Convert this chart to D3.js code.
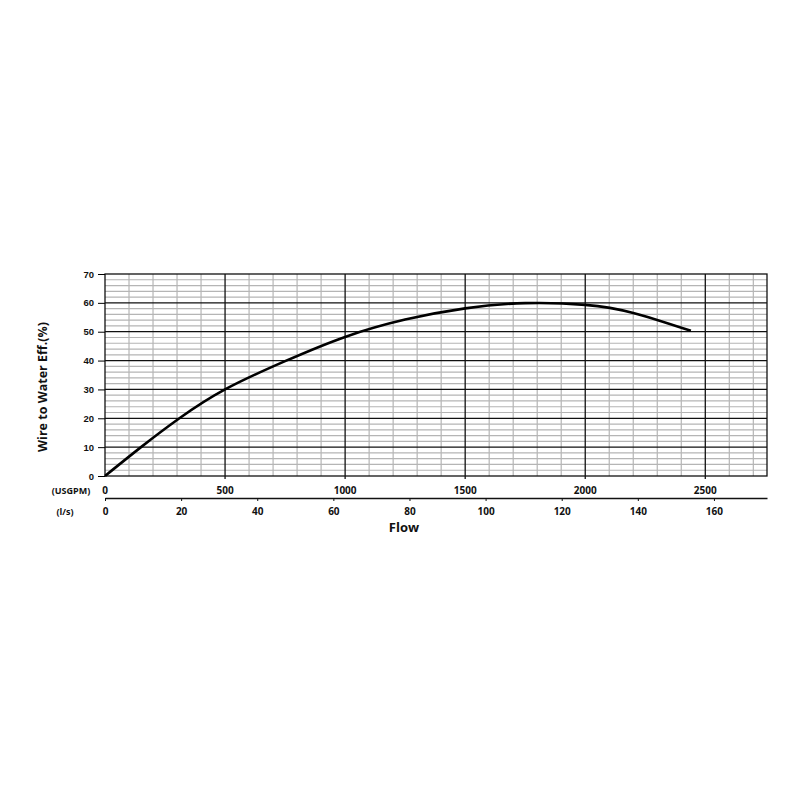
<!DOCTYPE html>
<html>
<head>
<meta charset="utf-8">
<script src="https://cdn.jsdelivr.net/npm/d3@7"></script>
<style>
  body { margin: 0; background: white; }
  text { font-family: "Open Sans", "DejaVu Sans", sans-serif; font-weight: bold; }
</style>
</head>
<body>
<div id="chart"></div>
<script>
// efficiency curve: flow in USGPM, efficiency in %
const flowGpm = [0, 150, 310, 500, 750, 1000, 1250, 1500, 1750, 2000, 2200, 2440];
const effPct  = [0, 10, 20, 30, 39.8, 48.2, 54.2, 58.1, 59.9, 59.3, 56.5, 50.3];

const yTicks = [0, 10, 20, 30, 40, 50, 60, 70];
const gpmTicks = [0, 500, 1000, 1500, 2000, 2500];
const lpsTicks = [0, 20, 40, 60, 80, 100, 120, 140, 160];

const GPM_PER_LPS = 15.8503;
const gpmMax = 2757;

function renderChart () {
    const wSvg = 800;
    const hSvg = 800;
    const left = 105, right = 767, top = 274, bottom = 476;

    let xScale = d3.scaleLinear([0, gpmMax], [left, right]);
    let lpsScale = d3.scaleLinear([0, gpmMax / GPM_PER_LPS], [left, right]);
    let yScale = d3.scaleLinear([0, 70], [bottom, top]);

    let svg = d3.select("#chart")
        .append("svg")
        .attr("width", wSvg)
        .attr("height", hSvg);

    // minor grid
    let minorX = d3.range(100, gpmMax, 100).filter(v => v % 500 !== 0);
    let minorY = d3.range(2, 70, 2).filter(v => v % 10 !== 0);

    let grid = svg.append("g");
    grid.selectAll("line.mx")
        .data(minorX)
        .enter()
        .append("line")
        .attr("x1", d => xScale(d)).attr("x2", d => xScale(d))
        .attr("y1", top).attr("y2", bottom)
        .attr("stroke", "#b5b5b5").attr("stroke-width", 1.2);
    grid.selectAll("line.my")
        .data(minorY)
        .enter()
        .append("line")
        .attr("x1", left).attr("x2", right)
        .attr("y1", d => yScale(d)).attr("y2", d => yScale(d))
        .attr("stroke", "#b5b5b5").attr("stroke-width", 1.2);

    // major grid
    grid.selectAll("line.Mx")
        .data(gpmTicks.filter(v => v > 0))
        .enter()
        .append("line")
        .attr("x1", d => xScale(d)).attr("x2", d => xScale(d))
        .attr("y1", top).attr("y2", bottom + 3)
        .attr("stroke", "#111").attr("stroke-width", 1.3);
    grid.selectAll("line.My")
        .data(yTicks.filter(v => v > 0 && v < 70))
        .enter()
        .append("line")
        .attr("x1", left).attr("x2", right)
        .attr("y1", d => yScale(d)).attr("y2", d => yScale(d))
        .attr("stroke", "#111").attr("stroke-width", 1.3);

    svg.append("rect")
        .attr("x", left).attr("y", top)
        .attr("width", right - left).attr("height", bottom - top)
        .attr("fill", "none").attr("stroke", "#111").attr("stroke-width", 1.3);

    // y axis
    let yAxis = d3.axisLeft(yScale).tickValues(yTicks).tickSize(7).tickPadding(4);
    svg.append("g")
        .attr("transform", `translate(${left}, 0)`)
        .call(yAxis)
        .call(g => g.select(".domain").remove())
        .selectAll("text")
        .style("font-family", "'Liberation Sans', Arial, sans-serif")
        .style("font-weight", "bold")
        .style("font-size", "9.5px")
        .attr("fill", "#111");

    // USGPM labels
    svg.append("g")
        .selectAll("text")
        .data(gpmTicks)
        .enter()
        .append("text")
        .attr("x", d => xScale(d))
        .attr("y", 494)
        .attr("text-anchor", "middle")
        .style("font-size", "10px")
        .attr("fill", "#111")
        .text(d => d);

    // l/s axis
    let lpsAxis = d3.axisBottom(lpsScale).tickValues(lpsTicks).tickSize(3).tickPadding(7).tickSizeOuter(0);
    svg.append("g")
        .attr("transform", `translate(0, 498)`)
        .call(lpsAxis)
        .call(g => g.select(".domain").attr("stroke", "#111").attr("stroke-width", 1.3))
        .call(g => g.selectAll(".tick line").attr("stroke", "#111"))
        .selectAll("text")
        .style("font-family", "'Open Sans', sans-serif")
        .style("font-weight", "bold")
        .style("font-size", "10px")
        .attr("fill", "#111");

    svg.append("text")
        .attr("x", 71).attr("y", 494)
        .attr("text-anchor", "middle")
        .style("font-size", "9px")
        .attr("fill", "#111")
        .text("(USGPM)");

    svg.append("text")
        .attr("x", 65).attr("y", 515)
        .attr("text-anchor", "middle")
        .style("font-size", "9px")
        .attr("fill", "#111")
        .text("(l/s)");

    svg.append("text")
        .attr("x", 404).attr("y", 532)
        .attr("text-anchor", "middle")
        .style("font-size", "13px")
        .attr("fill", "#111")
        .text("Flow");

    svg.append("text")
        .attr("transform", "translate(47, 387) rotate(-90)")
        .attr("text-anchor", "middle")
        .style("font-size", "12.5px")
        .attr("fill", "#111")
        .text("Wire to Water Eff.(%)");

    // curve
    let curveData = flowGpm.map((f, i) => ({ flow: f, eff: effPct[i] }));
    let line = d3.line()
        .x(d => xScale(d.flow))
        .y(d => yScale(d.eff))
        .curve(d3.curveNatural);

    svg.append("path")
        .datum(curveData)
        .attr("d", line)
        .attr("fill", "none")
        .attr("stroke", "#000")
        .attr("stroke-width", 2.6);
}

renderChart();
</script>
</body>
</html>
